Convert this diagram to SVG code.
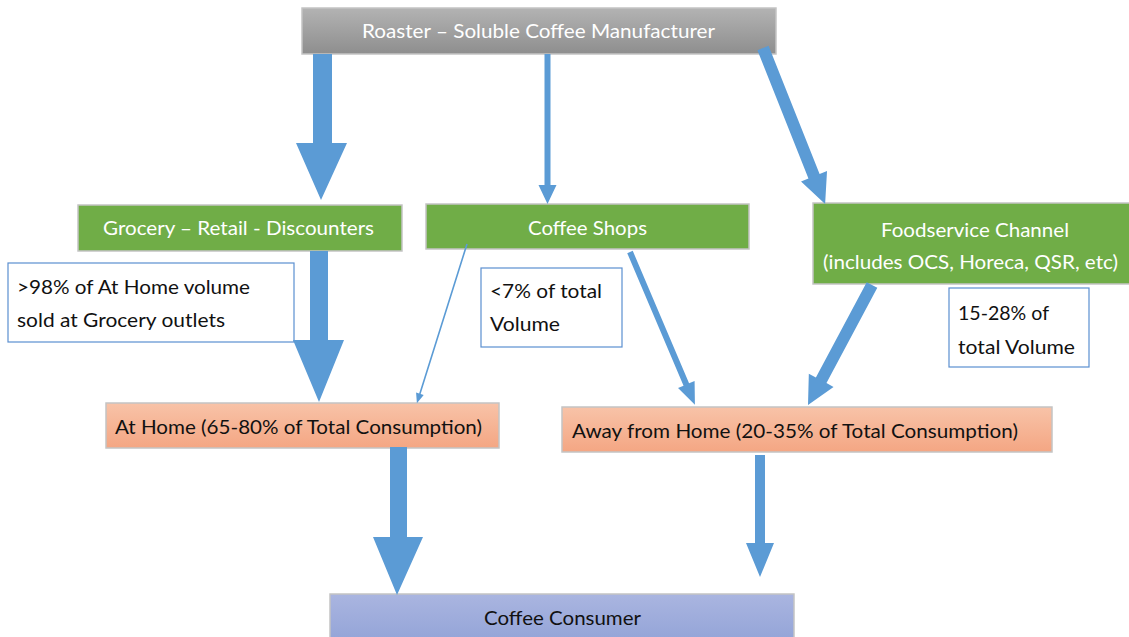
<svg xmlns="http://www.w3.org/2000/svg" width="1129" height="637" viewBox="0 0 1129 637">
<defs>
<linearGradient id="gGray" x1="0" y1="0" x2="0" y2="1"><stop offset="0" stop-color="#b3b3b3"/><stop offset="1" stop-color="#8e8e8e"/></linearGradient>
<linearGradient id="gSalmon" x1="0" y1="0" x2="0" y2="1"><stop offset="0" stop-color="#f8c3a8"/><stop offset="1" stop-color="#f4a683"/></linearGradient>
<linearGradient id="gBlue" x1="0" y1="0" x2="0" y2="1"><stop offset="0" stop-color="#aab5e0"/><stop offset="1" stop-color="#8fa1d6"/></linearGradient>
<style>
.box{stroke:#c4c4c4;stroke-width:1.5}
.green{fill:#70ad47}
.call{fill:#ffffff;stroke:#5b8fd0;stroke-width:1.2}
.arr{fill:#5b9bd5}
text{font-family:Lato,"Open Sans","Liberation Sans",sans-serif;font-size:20px}
.w{fill:#ffffff}
.k{fill:#111111}
.m{text-anchor:middle}
</style>
</defs>
<rect width="1129" height="637" fill="#ffffff"/>
<g id="roaster">
<rect class="box" x="302" y="8" width="474" height="46" fill="url(#gGray)"/>
<text class="w m" x="538.5" y="38" textLength="353" lengthAdjust="spacingAndGlyphs">Roaster – Soluble Coffee Manufacturer</text>
</g>
<g id="grocery">
<rect class="box green" x="78" y="205" width="324" height="46"/>
<text class="w m" x="238.5" y="235" textLength="271" lengthAdjust="spacingAndGlyphs">Grocery – Retail - Discounters</text>
</g>
<g id="coffee-shops">
<rect class="box green" x="426" y="204" width="323" height="45"/>
<text class="w m" x="587.5" y="235" textLength="119" lengthAdjust="spacingAndGlyphs">Coffee Shops</text>
</g>
<g id="foodservice">
<rect class="box green" x="813" y="203" width="325" height="81"/>
<text class="w m" x="975" y="237" textLength="188" lengthAdjust="spacingAndGlyphs">Foodservice Channel</text>
<text class="w m" x="970.5" y="269" textLength="295" lengthAdjust="spacingAndGlyphs">(includes OCS, Horeca, QSR, etc)</text>
</g>
<g id="note-grocery">
<rect class="call" x="8" y="263" width="286" height="79"/>
<text class="k" x="17" y="294" textLength="233" lengthAdjust="spacingAndGlyphs">&gt;98% of At Home volume</text>
<text class="k" x="17" y="327" textLength="208" lengthAdjust="spacingAndGlyphs">sold at Grocery outlets</text>
</g>
<g id="note-shops">
<rect class="call" x="481" y="268" width="141" height="79"/>
<text class="k" x="490" y="298" textLength="112" lengthAdjust="spacingAndGlyphs">&lt;7% of total</text>
<text class="k" x="490" y="331" textLength="70" lengthAdjust="spacingAndGlyphs">Volume</text>
</g>
<g id="note-food">
<rect class="call" x="949" y="288" width="140" height="79"/>
<text class="k" x="958" y="320" textLength="91" lengthAdjust="spacingAndGlyphs">15-28% of</text>
<text class="k" x="958" y="354" textLength="117" lengthAdjust="spacingAndGlyphs">total Volume</text>
</g>
<g id="at-home">
<rect class="box" x="106" y="403" width="393" height="45" fill="url(#gSalmon)"/>
<text class="k" x="115" y="434" textLength="367" lengthAdjust="spacingAndGlyphs">At Home (65-80% of Total Consumption)</text>
</g>
<g id="away">
<rect class="box" x="562" y="407" width="490" height="45" fill="url(#gSalmon)"/>
<text class="k" x="572" y="438" textLength="446" lengthAdjust="spacingAndGlyphs">Away from Home (20-35% of Total Consumption)</text>
</g>
<g id="consumer">
<rect class="box" x="330" y="594" width="464" height="56" fill="url(#gBlue)"/>
<text class="k m" x="562.5" y="625" textLength="157" lengthAdjust="spacingAndGlyphs">Coffee Consumer</text>
</g>
<g id="connectors">
<polygon class="arr" points="313,54 332,54 332,143 347,143 321,200 296,143 313,143"/>
<polygon class="arr" points="544.5,54 550.5,54 550.5,185 556.5,185 547.5,204 538.5,185 544.5,185"/>
<polygon class="arr" transform="translate(763,48) rotate(68.3)" points="0,-6 138,-6 138,-14 168,0 138,14 138,6 0,6"/>
<polygon class="arr" points="310,251 328,251 328,340 344,340 319,402 293,340 310,340"/>
<polygon class="arr" transform="translate(467,244) rotate(107.46)" points="0,-0.8 157,-0.8 157,-4 167,0 157,4 157,0.8 0,0.8"/>
<polygon class="arr" transform="translate(630,252) rotate(66.98)" points="0,-3 144,-3 144,-9 166,0 144,9 144,3 0,3"/>
<polygon class="arr" transform="translate(872,285) rotate(118.07)" points="0,-6 108,-6 108,-14 136,0 108,14 108,6 0,6"/>
<polygon class="arr" points="390,447 407,447 407,537 423,537 397,595 373,537 390,537"/>
<polygon class="arr" points="755,455 765,455 765,543 774,543 760,577 746,543 755,543"/>
</g>
</svg>
